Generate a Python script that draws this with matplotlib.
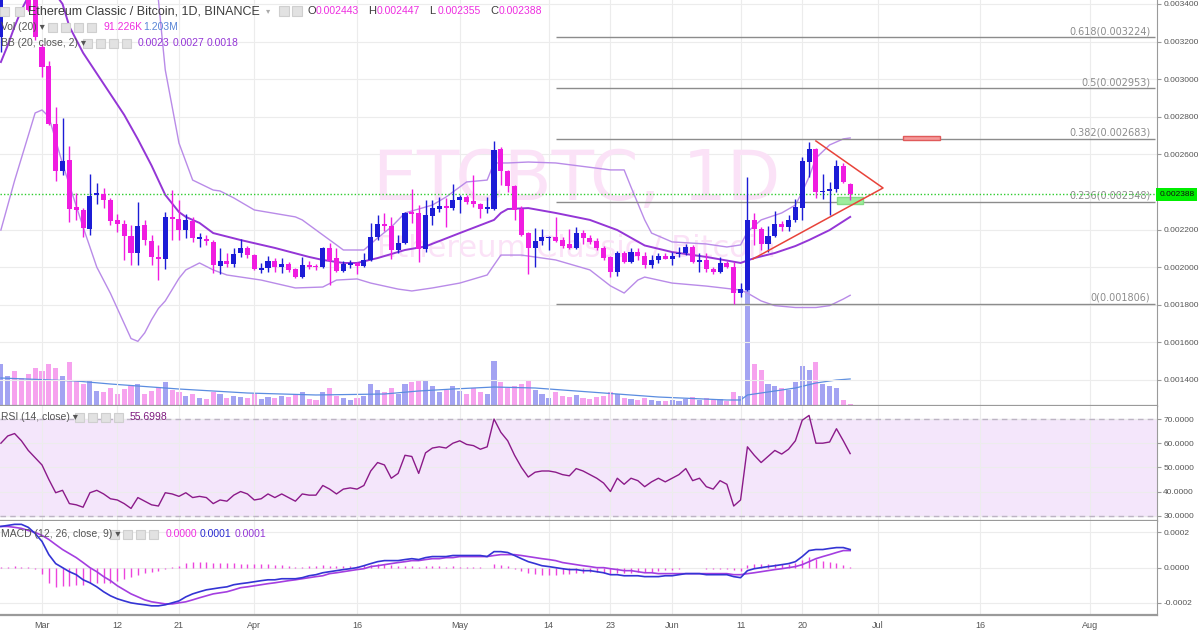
import numpy as np
import matplotlib.pyplot as plt
from matplotlib.patches import Rectangle
from matplotlib.transforms import blended_transform_factory

plt.rcParams["font.family"] = ["Liberation Sans", "DejaVu Sans"]
plt.rcParams["axes.unicode_minus"] = False

# ---------------------------------------------------------------- data
# one candle per day, day 0 = 1 Mar 2018; prices in micro-BTC (x1e-6)
days = np.arange(-6, 119)
opens = [3224, 3470, 3560, 3520, 3460, 3430, 3171, 3070, 2761, 2511, 2570, 2320, 2304, 2203, 2384, 2389,
         2357, 2251, 2229, 2165, 2075, 2224, 2139, 2054, 2043, 2267, 2256, 2197, 2245, 2150, 2150, 2134,
         2006, 2032, 2016, 2075, 2102, 2064, 1985, 1995, 2032, 2001, 2016, 1990, 1947, 2011, 2006, 2001,
         2102, 2048, 1980, 2011, 2022, 2006, 2038, 2160, 2229, 2219, 2091, 2128, 2293, 2288, 2096, 2272,
         2309, 2325, 2314, 2357, 2373, 2352, 2336, 2309, 2309, 2628, 2511, 2431, 2309, 2181, 2102, 2139,
         2155, 2160, 2144, 2123, 2102, 2181, 2155, 2139, 2102, 2054, 1974, 2075, 2027, 2080, 2059, 2011,
         2038, 2059, 2043, 2070, 2075, 2107, 2027, 2038, 1990, 1974, 2022, 2001, 1862, 1878, 2251, 2203,
         2123, 2165, 2229, 2213, 2251, 2314, 2559, 2628, 2400, 2405, 2416, 2538, 2443]
highs = [3510, 3600, 3640, 3560, 3500, 3440, 3185, 3096, 2852, 2793, 2644, 2394, 2314, 2495, 2447, 2421,
         2368, 2283, 2251, 2224, 2346, 2251, 2171, 2118, 2293, 2410, 2357, 2283, 2267, 2181, 2171, 2144,
         2102, 2075, 2102, 2150, 2112, 2070, 2022, 2059, 2048, 2048, 2027, 1995, 2054, 2032, 2016, 2107,
         2128, 2102, 2032, 2038, 2027, 2075, 2235, 2277, 2288, 2267, 2171, 2293, 2416, 2330, 2357, 2357,
         2373, 2368, 2442, 2384, 2384, 2490, 2341, 2373, 2671, 2639, 2517, 2437, 2325, 2187, 2208, 2203,
         2165, 2267, 2160, 2203, 2213, 2197, 2171, 2155, 2112, 2059, 2086, 2086, 2102, 2102, 2080, 2064,
         2075, 2075, 2080, 2107, 2123, 2118, 2075, 2075, 2001, 2054, 2032, 2027, 1915, 2479, 2288, 2213,
         2219, 2298, 2245, 2277, 2362, 2586, 2666, 2634, 2495, 2453, 2570, 2554, 2447]
lows = [3145, 3440, 3480, 3430, 3360, 3210, 3011, 2755, 2458, 2490, 2240, 2251, 2160, 2171, 2336, 2314,
        2224, 2187, 2038, 2011, 2011, 2118, 2011, 1931, 1990, 2144, 2144, 2155, 2134, 2107, 2118, 1969,
        1963, 2001, 2001, 2054, 2048, 1985, 1969, 1974, 1974, 1969, 1974, 1942, 1942, 1990, 1985, 1995,
        1905, 1974, 1974, 1995, 1963, 2001, 2032, 2144, 2192, 2043, 2075, 2123, 2235, 2027, 2080, 2224,
        2293, 2213, 2304, 2288, 2336, 2320, 2261, 2288, 2304, 2437, 2400, 2251, 2165, 1963, 2001, 2118,
        2091, 2134, 2102, 2096, 2096, 2123, 2123, 2091, 2038, 1947, 1953, 2022, 2022, 2038, 1995, 1995,
        2022, 2043, 2011, 2054, 2064, 2022, 1974, 1974, 1963, 1969, 1995, 1806, 1841, 1873, 2118, 2091,
        2080, 2160, 2192, 2192, 2240, 2251, 2479, 2368, 2362, 2277, 2400, 2447, 2355]
closes = [3470, 3560, 3520, 3460, 3368, 3224, 3065, 2761, 2511, 2564, 2309, 2304, 2208, 2378, 2394, 2357,
          2245, 2229, 2165, 2075, 2219, 2144, 2054, 2043, 2267, 2256, 2197, 2251, 2155, 2160, 2139, 2011,
          2032, 2016, 2070, 2102, 2064, 1990, 1995, 2032, 2001, 2016, 1985, 1947, 2011, 2001, 2001, 2102,
          2032, 1980, 2016, 2022, 2006, 2038, 2160, 2229, 2219, 2091, 2128, 2288, 2283, 2096, 2277, 2314,
          2325, 2314, 2357, 2373, 2346, 2336, 2309, 2320, 2623, 2511, 2431, 2304, 2171, 2102, 2139, 2160,
          2160, 2139, 2112, 2102, 2181, 2155, 2134, 2102, 2048, 1974, 2075, 2027, 2080, 2059, 2011, 2038,
          2059, 2043, 2059, 2075, 2107, 2027, 2038, 1990, 1974, 2022, 2001, 1862, 1883, 2251, 2203, 2123,
          2165, 2229, 2213, 2251, 2320, 2564, 2628, 2400, 2405, 2416, 2538, 2453, 2388]

# volume in thousands of ETC
volume_k = [1869, 1335, 1558, 1246, 1424, 1691, 1558, 1869, 1691, 1335, 1958, 1112, 979, 1157, 668, 623,
            801, 534, 756, 890, 979, 534, 668, 801, 1068, 712, 623, 445, 534, 356, 311, 623,
            534, 356, 445, 400, 356, 534, 311, 400, 356, 445, 400, 534, 623, 311, 267, 623,
            801, 445, 356, 267, 356, 445, 979, 712, 623, 801, 534, 979, 1068, 1157, 1112, 890,
            623, 712, 890, 668, 534, 801, 623, 534, 2002, 1068, 801, 890, 979, 1157, 712, 534,
            356, 623, 445, 400, 490, 356, 311, 400, 445, 623, 534, 356, 311, 267, 356, 267,
            222, 222, 267, 222, 311, 400, 267, 356, 267, 311, 222, 623, 445, 5162, 1869, 1602,
            979, 890, 801, 712, 1068, 1780, 1602, 1958, 979, 890, 801, 267, 91]
vol_ma_days = [-6, 5, 10, 20, 30, 40, 50, 55, 60, 66, 72, 80, 90, 100, 102, 103, 106, 110, 113, 116, 118]
vol_ma_k = [1246, 1112, 979, 756, 578, 490, 534, 668, 756, 845, 801, 623, 400, 267, 267, 490, 623, 801,
            1024, 1157, 1203]

# Bollinger bands (20, 2), micro-BTC
bb_up_days = [12, 14, 17, 18, 20, 22, 25, 26, 28, 31, 37, 38, 41, 43, 44, 47, 49, 51, 53, 57, 59, 62, 65,
              66, 68, 71, 75, 83, 85, 86, 88, 89, 92, 97, 100, 102, 103, 105, 108, 110, 111, 112, 113,
              115, 117, 118]
bb_up = [3900, 3700, 3421, 3049, 2660, 2463, 2410, 2405, 2368, 2304, 2267, 2251, 2171, 2118, 2091, 2091,
         2155, 2213, 2288, 2330, 2373, 2453, 2463, 2554, 2554, 2559, 2554, 2517, 2517, 2426, 2251, 2181,
         2134, 2123, 2107, 2118, 2187, 2251, 2288, 2330, 2400, 2480, 2580, 2650, 2682, 2687]
bb_mid_days = [-6, -5, -4, -3, -2, 0, 2, 3, 4, 6, 8, 10, 12, 14, 16, 18, 20, 21, 23, 25, 29, 34, 39, 41,
               44, 46, 49, 53, 56, 61, 66, 67, 68, 71, 75, 80, 84, 88, 92, 97, 102, 104, 107, 110, 112,
               115, 118]
bb_mid = [3091, 3180, 3280, 3368, 3440, 3500, 3450, 3400, 3280, 3140, 3030, 2920, 2810, 2680, 2540, 2384,
          2293, 2267, 2235, 2181, 2144, 2102, 2054, 2038, 2022, 2022, 2048, 2091, 2110, 2181, 2251, 2288,
          2309, 2314, 2288, 2251, 2197, 2115, 2080, 2054, 2022, 2048, 2075, 2112, 2144, 2197, 2267]
bb_low_days = [-6, -4, -2, -1, 0, 1, 3, 6, 8, 10, 12, 13, 14, 15, 16, 17, 18, 19, 20, 21, 23, 25, 27, 32,
               37, 41, 43, 46, 48, 52, 54, 57, 61, 65, 67, 70, 75, 80, 83, 85, 87, 88, 92, 97, 102, 103,
               105, 107, 110, 113, 115, 117, 118]
bb_low = [2197, 2460, 2700, 2820, 2836, 2800, 2550, 2213, 2000, 1860, 1700, 1620, 1605, 1650, 1720, 1780,
          1820, 1880, 1940, 1985, 2022, 1985, 1958, 1931, 1889, 1894, 1931, 1937, 1915, 1883, 1873, 1889,
          1915, 1958, 2064, 2064, 2038, 1985, 1900, 1862, 1931, 1947, 1915, 1899, 1878, 1862, 1820, 1795,
          1785, 1785, 1795, 1830, 1850]

# RSI (14)
rsi = [60, 63, 64, 61, 57, 54, 51, 45, 39.5, 40.5, 35, 34.5, 33.5, 39.5, 40.5, 39, 37, 36.5, 35, 33,
       37.5, 36, 34.5, 34, 39.5, 39, 38, 39.5, 37.5, 38, 37.5, 35, 36.5, 36, 38.5, 40, 39, 36.5, 37, 39,
       37.5, 39, 37.5, 36, 39, 38.5, 38.5, 42.5, 41, 39, 41, 41.5, 41, 42.5, 48.5, 52, 51, 45.5, 47.5, 55,
       54.5, 47.5, 56, 58, 58.5, 58, 60, 61, 59.5, 59, 57.5, 58.5, 70, 64.5, 61, 55, 50, 46, 48, 48.5,
       48.5, 48, 47, 46.5, 49.5, 48.5, 47, 45.5, 43.5, 40, 45.5, 43, 45.5, 44.5, 42, 44, 45.5, 44, 45.5,
       47, 49.5, 44.5, 45.5, 42, 41, 44.5, 43, 34, 36.5, 58.5, 55, 52, 54.5, 57, 55.5, 57.5, 61, 69.5,
       71.5, 60, 60, 60.5, 66, 61, 55.7]

# MACD (12, 26, 9), micro-BTC
macd = [234, 240, 246, 246, 229, 194, 149, 74, 23, 0, -23, -40, -69, -86, -109, -137, -160, -177, -189,
        -200, -206, -211, -217, -217, -211, -200, -189, -166, -149, -137, -126, -120, -114, -109, -97,
        -91, -86, -80, -74, -69, -69, -63, -63, -63, -57, -46, -40, -29, -23, -17, -11, -6, 0, 11, 23, 34,
        40, 40, 40, 46, 51, 46, 57, 63, 63, 63, 69, 69, 69, 69, 69, 63, 91, 91, 86, 69, 51, 34, 23, 11, 6,
        0, -6, -11, -11, -17, -17, -23, -29, -40, -40, -46, -46, -46, -51, -51, -51, -46, -46, -40, -34,
        -34, -34, -40, -40, -40, -40, -51, -57, -17, -6, 0, 6, 11, 17, 23, 34, 63, 97, 103, 103, 109,
        114, 114, 103]
signal = [234, 234, 229, 223, 211, 200, 183, 160, 131, 103, 80, 57, 29, 0, -23, -51, -74, -103, -126,
          -149, -166, -183, -194, -200, -206, -206, -200, -194, -183, -171, -160, -149, -143, -137, -126,
          -114, -109, -103, -97, -91, -86, -80, -74, -69, -63, -57, -51, -46, -34, -29, -23, -17, -11, -6,
          6, 11, 17, 23, 29, 34, 40, 40, 46, 51, 51, 57, 57, 63, 63, 63, 63, 63, 69, 74, 74, 74, 69, 63,
          57, 51, 46, 40, 29, 23, 17, 11, 6, 0, 0, -6, -11, -17, -17, -23, -29, -29, -34, -34, -34, -34,
          -34, -34, -34, -34, -34, -34, -34, -40, -40, -34, -29, -23, -17, -11, -6, 0, 6, 17, 34, 51, 63,
          74, 86, 97, 97]
hist = [6, 6, 11, 6, 6, -6, -34, -86, -108, -103, -103, -97, -97, -86, -86, -86, -86, -74, -63, -51,
        -40, -29, -23, -17, -6, 6, 11, 29, 34, 34, 34, 29, 29, 29, 29, 23, 23, 23, 23, 23, 17, 17, 11, 6,
        6, 11, 11, 17, 11, 11, 11, 11, 11, 17, 17, 23, 23, 17, 11, 11, 11, 6, 11, 11, 11, 6, 11, 6, 6, 6,
        6, 0, 23, 17, 11, -6, -17, -29, -34, -40, -40, -40, -34, -34, -29, -29, -23, -23, -29, -34, -29,
        -29, -29, -23, -23, -23, -17, -11, -11, -6, 0, 0, 0, -6, -6, -6, -6, -11, -17, 17, 23, 23, 23,
        23, 23, 23, 29, 46, 63, 51, 40, 34, 29, 17, 6]

# drawings
fib_ratios = ["0.618", "0.5", "0.382", "0.236", "0"]
fib_levels = [0.003224, 0.002953, 0.002683, 0.002348, 0.001806]
fib_start, fib_end = 75, 162.5
tri_days = [113.0, 122.8, 103.8]
tri_prices = [0.002671, 0.002421, 0.002043]
red_box = (125.7, 0.002676, 5.4, 0.000021)
green_box = (116.1, 0.002336, 3.8, 0.000037)
last_price = 0.002388

tick_days = [0, 11, 20, 31, 46, 61, 74, 83, 92, 102, 111, 122, 137, 153]
tick_labels = ["Mar", "12", "21", "Apr", "16", "May", "14", "23", "Jun", "11", "20", "Jul", "16", "Aug"]

# ---------------------------------------------------------------- style
BLUE = "#1c1cd6"; PINK = "#f01ce0"
BB_MID = "#9436d6"; BB_BAND = "#b98be8"
GRID = "#ececec"; AXIS = "#9a9a9a"; LABEL = "#555555"
W, H = 1200, 630
XR = 1157

u = 1e-6
o, h, l, c = (np.array(v) * u for v in (opens, highs, lows, closes))
up = c >= o
cols = np.where(up, BLUE, PINK)

fig = plt.figure(figsize=(W / 100, H / 100), dpi=100)


def pane(top, bottom):
    return [0, 1 - bottom / H, XR / W, (bottom - top) / H]


axv = fig.add_axes(pane(0, 406))
ax = fig.add_axes(pane(0, 406))
ax_rsi = fig.add_axes(pane(406, 521))
ax_macd = fig.add_axes(pane(521, 615))
xlim = (-6.13, 162.8)

for a in (ax, ax_rsi, ax_macd):
    a.set_xlim(*xlim)
    for s in ("top", "left"):
        a.spines[s].set_visible(False)
    a.spines["right"].set_color(AXIS)
    a.spines["bottom"].set_color(AXIS)
    a.spines["bottom"].set_linewidth(1.6)
    a.yaxis.tick_right()
    a.tick_params(axis="y", length=3, pad=1.5, labelsize=6, color=AXIS, labelcolor=LABEL)
    a.set_xticks(tick_days)
    a.tick_params(axis="x", length=0, labelbottom=False)
    a.grid(True, color=GRID, lw=0.8)
    a.set_axisbelow(True)

# volume underneath
axv.set_xlim(*xlim)
axv.set_ylim(0, 406 * 44.5)
vcols = np.where(up, "#a3a3f2", "#f6a2ee")
axv.bar(days, volume_k, width=0.75, color=vcols, lw=0)
axv.plot(vol_ma_days, vol_ma_k, color="#5b8de0", lw=0.9)
axv.axis("off")

# main price pane
ax.patch.set_visible(False)
ax.set_ylim(0.001261, 0.003421)
ax.set_yticks([0.0014, 0.0016, 0.0018, 0.0020, 0.0022, 0.0026, 0.0028, 0.0030, 0.0032, 0.0034])
ax.yaxis.set_major_formatter(plt.FormatStrFormatter("%.6f"))

# watermark
ax.text(78, 0.002460, "ETCBTC, 1D", ha="center", va="center", fontsize=50,
        color="#fbe2f7", zorder=0.6, family="DejaVu Sans")
ax.text(78, 0.002100, "Ethereum Classic / Bitcoin", ha="center", va="center", fontsize=22,
        color="#fbe2f7", zorder=0.6, family="DejaVu Sans")

ax.plot(bb_up_days, np.array(bb_up) * u, color=BB_BAND, lw=1, zorder=2)
ax.plot(bb_low_days, np.array(bb_low) * u, color=BB_BAND, lw=1, zorder=2)
ax.plot(bb_mid_days, np.array(bb_mid) * u, color=BB_MID, lw=1.4, zorder=2)

ax.vlines(days, l, h, colors=cols, lw=1, zorder=3)
ax.bar(days, np.maximum(np.abs(c - o), 1.6e-6), bottom=np.minimum(o, c), width=0.74,
       color=cols, lw=0, zorder=3)

for r, lev in zip(fib_ratios, fib_levels):
    ax.hlines(lev, fib_start, fib_end, color="#8c8c8c", lw=1, zorder=2)
    ax.text(161.8, lev + 0.000004, f"{r}({lev:.6f})", ha="right", va="bottom",
            fontsize=7, color="#8c8c8c", zorder=2, family="DejaVu Sans")

ax.axhline(last_price, color="#2ecc2e", ls=(0, (1, 1.5)), lw=1, zorder=2)
ax.text(1.002, last_price, "0.002388", transform=blended_transform_factory(ax.transAxes, ax.transData),
        ha="left", va="center", fontsize=6, color="#111111",
        bbox=dict(boxstyle="square,pad=0.35", fc="#00ee00", ec="none"), clip_on=False, zorder=5)

ax.plot(tri_days, tri_prices, color="#e8433a", lw=1.1, zorder=4)
ax.add_patch(Rectangle(red_box[:2], red_box[2], red_box[3], fc="#f59a9a", ec="#e05a5a", lw=1, zorder=4))
ax.add_patch(Rectangle(green_box[:2], green_box[2], green_box[3], fc="#9ded9d", ec="#86dc86", lw=1,
                       zorder=2.5))

# RSI pane
ax_rsi.set_ylim(27.8, 75.4)
ax_rsi.axhspan(30, 70, color="#f4e6fb", zorder=0)
for lev in (30, 70):
    ax_rsi.axhline(lev, color="#bdb4c4", ls=(0, (4, 3)), lw=1)
ax_rsi.plot(days, rsi, color="#8b1a89", lw=1)
ax_rsi.set_yticks([30, 40, 50, 60, 70])
ax_rsi.yaxis.set_major_formatter(plt.FormatStrFormatter("%.4f"))

# MACD pane
ax_macd.set_ylim(-0.000269, 0.000265)
ax_macd.vlines(days, 0, np.array(hist) * u, color="#ec44dc", lw=1)
ax_macd.plot(days, np.array(signal) * u, color="#a43ee0", lw=1.2)
ax_macd.plot(days, np.array(macd) * u, color="#3434d4", lw=1.2)
ax_macd.set_yticks([-0.0002, 0.0, 0.0002])
ax_macd.yaxis.set_major_formatter(plt.FormatStrFormatter("%.4f"))
ax_macd.set_xticks(tick_days, tick_labels)
ax_macd.tick_params(axis="x", labelbottom=True, labelsize=6.5, labelcolor=LABEL, pad=4)


# ---------------------------------------------------------------- legends
def ftext(x, y, s, color=LABEL, size=7.5, **kw):
    fig.text(x / W, 1 - y / H, s, color=color, fontsize=size, va="center", ha="left", zorder=10, **kw)


def icons(x0, y, n, size=9, gap=13):
    for i in range(n):
        fig.add_artist(Rectangle(((x0 + i * gap) / W, 1 - (y + size / 2) / H), size / W, size / H,
                                 transform=fig.transFigure, fc="#e2e2e2", ec="#cfcfcf", lw=0.8, zorder=10))


icons(0, 11, 1, size=9)
icons(15, 11, 1, size=9)
ftext(28, 11, "Ethereum Classic / Bitcoin, 1D, BINANCE", color="#3c3c3c", size=9)
ftext(266, 11, "▾", color="#aaaaaa", size=6, family="DejaVu Sans")
icons(279, 11, 2, size=10)
for x, k, v in zip([307, 368, 429, 490], ["O", "H", "L", "C"],
                   [opens[-1], highs[-1], lows[-1], closes[-1]]):
    ftext(x, 11, k, color="#3c3c3c", size=8)
    ftext(x + 9, 11, f"{v * u:.6f}", color="#ee2ee0", size=7.5)

ftext(1, 27, "Vol (20) ▾", size=7.5)
icons(48, 27, 4)
ftext(103, 27, "91.226K", color="#ee2ee0", size=7.5)
ftext(143, 27, "1.203M", color="#5b86d6", size=7.5)

ftext(1, 43, "BB (20, close, 2) ▾", size=7.5)
icons(83, 43, 4)
for x, s in zip([138, 173, 207], ["0.0023", "0.0027", "0.0018"]):
    ftext(x, 43, s, color=BB_MID, size=7.5)

ftext(1, 417, "RSI (14, close) ▾", size=7.5)
icons(75, 417, 4)
ftext(130, 417, "55.6998", color="#7e1a7e", size=7.5)

ftext(1, 534, "MACD (12, 26, close, 9) ▾", size=7.5)
icons(110, 534, 4)
for x, s, col in zip([166, 200, 235], ["0.0000", "0.0001", "0.0001"], ["#ee2ee0", "#2a2ad0", BB_MID]):
    ftext(x, 534, s, color=col, size=7.5)

fig.savefig("out.png", dpi=100, facecolor="white")
